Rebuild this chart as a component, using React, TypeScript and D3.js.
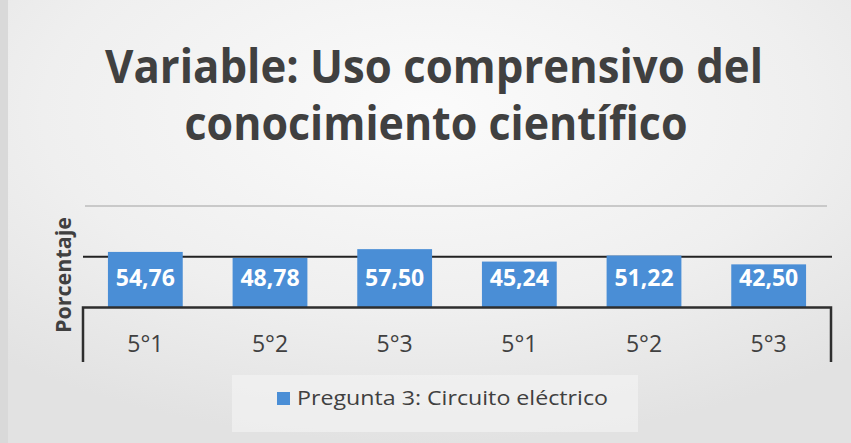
import React from 'react';
import * as d3 from 'd3';

// chart data
const categories = ['5°1', '5°2', '5°3', '5°1', '5°2', '5°3'];
const values = [54.76, 48.78, 57.5, 45.24, 51.22, 42.5];
const gridValues = [50, 100];
const titleLines = ['Variable: Uso comprensivo del', 'conocimiento científico'];
const seriesName = 'Pregunta 3: Circuito eléctrico';
const yTitle = 'Porcentaje';

const W = 851;
const H = 443;
const FONT = '"Open Sans", "Noto Sans", sans-serif';
const BAR = '#4a8ed6';
const TEXT = '#404040';

const fmt = d3.formatLocale({ decimal: ',', thousands: '.', grouping: [3], currency: ['', '€'] }).format('.2f');

const App: React.FC = () => {
  // layout
  const x0 = 83, x1 = 831;
  const yBase = 307.5, yTop = 206;
  const boxBottom = 362;

  const idx = categories.map((_, i) => String(i));
  const x = d3.scaleBand<string>().domain(idx).range([x0, x1]).paddingInner(0.4).paddingOuter(0.2);
  const y = d3.scaleLinear().domain([0, 100]).range([yBase, yTop]);

  return (
    <svg width={W} height={H} style={{ position: 'absolute', left: 0, top: 0 }}>
      <defs>
        <radialGradient id="bg" cx="0.5" cy="0.25" r="0.75">
          <stop offset="0" stopColor="#fbfbfb" />
          <stop offset="0.6" stopColor="#efefef" />
          <stop offset="1" stopColor="#e2e2e2" />
        </radialGradient>
      </defs>
      <rect x={0} y={0} width={W} height={H} fill="url(#bg)" />
      <rect x={0} y={0} width={8} height={H} fill="#d9d9d9" />

      {/* title */}
      <g fontFamily={FONT} fontWeight={700} fill={TEXT} textAnchor="middle">
        <text x={434} y={83} fontSize={46} textLength={658} lengthAdjust="spacingAndGlyphs">{titleLines[0]}</text>
        <text x={436} y={140} fontSize={46} textLength={503} lengthAdjust="spacingAndGlyphs">{titleLines[1]}</text>
      </g>

      {/* gridlines */}
      {gridValues.map(v => (
        <line key={v} x1={v === 100 ? 85 : x0} x2={v === 100 ? 827 : x1 + 1}
          y1={y(v)} y2={y(v)}
          stroke={v === 100 ? '#c9c9c9' : '#222'} strokeWidth={2} />
      ))}

      {/* bars */}
      {values.map((v, i) => (
        <g key={i}>
          <rect x={x(String(i))} y={y(v)} width={x.bandwidth()} height={yBase - y(v)} fill={BAR} />
          <text x={x(String(i))! + x.bandwidth() / 2} y={286} textAnchor="middle"
            fontFamily={FONT} fontWeight={700} fontSize={23} fill="#fff">{fmt(v)}</text>
        </g>
      ))}

      {/* category axis box */}
      <path d={`M${x0},${boxBottom}V${yBase}H${x1}V${boxBottom}`} fill="none" stroke="#2e2e2e" strokeWidth={2.5} />
      {categories.map((c, i) => (
        <text key={i} x={x(String(i))! + x.bandwidth() / 2} y={352} textAnchor="middle"
          fontFamily={FONT} fontSize={23} fill={TEXT}>{c}</text>
      ))}

      {/* y title */}
      <text transform={`translate(71,275) rotate(-90)`} textAnchor="middle"
        fontFamily={FONT} fontWeight={700} fontSize={22} fill={TEXT}
        textLength={116} lengthAdjust="spacingAndGlyphs">{yTitle}</text>

      {/* legend */}
      <rect x={232} y={375} width={406} height={57} fill="#f2f2f2" opacity={0.7} />
      <rect x={277} y={392} width={13} height={13} fill={BAR} />
      <text x={297} y={405} fontFamily={FONT} fontSize={20} fill={TEXT}
        textLength={311} lengthAdjust="spacingAndGlyphs">{seriesName}</text>
    </svg>
  );
};

export default App;
